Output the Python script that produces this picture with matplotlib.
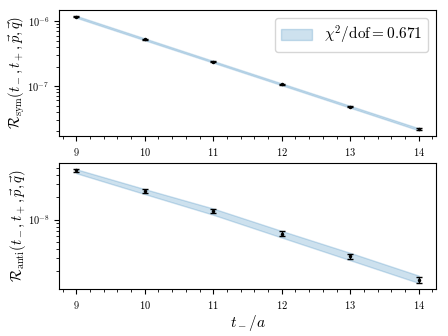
import numpy as np
import matplotlib
matplotlib.use("Agg")
import matplotlib.pyplot as plt

plt.rcParams['font.family'] = 'serif'
plt.rcParams['font.serif'] = ['cmr10']
plt.rcParams['mathtext.fontset'] = 'cm'
plt.rcParams['axes.formatter.use_mathtext'] = True

# time slices
t = [9, 10, 11, 12, 13, 14]

# symmetric ratio
sym_val = [1.18e-6, 5.29e-7, 2.37e-7, 1.07e-7, 4.81e-8, 2.18e-8]
sym_err = [2.0e-8, 1.0e-8, 4.5e-9, 2.2e-9, 1.1e-9, 6.0e-10]
sym_lo = [1.13e-6, 5.08e-7, 2.29e-7, 1.03e-7, 4.63e-8, 2.08e-8]
sym_hi = [1.21e-6, 5.43e-7, 2.44e-7, 1.10e-7, 4.96e-8, 2.24e-8]

# antisymmetric ratio
anti_val = [4.64e-8, 2.44e-8, 1.29e-8, 6.47e-9, 3.19e-9, 1.53e-9]
anti_err = [2.3e-9, 1.5e-9, 7.9e-10, 4.9e-10, 2.6e-10, 1.5e-10]
anti_lo = [4.23e-8, 2.21e-8, 1.16e-8, 5.71e-9, 2.82e-9, 1.39e-9]
anti_hi = [4.79e-8, 2.58e-8, 1.41e-8, 7.02e-9, 3.55e-9, 1.75e-9]

chi2_label = r'$\chi^2/\mathrm{dof} = 0.671$'

fig = plt.figure(figsize=(4.48, 3.36), dpi=100)
ax1 = fig.add_axes([0.132, 0.595, 0.841, 0.375])
ax2 = fig.add_axes([0.132, 0.140, 0.841, 0.375])

ax1.fill_between(t, sym_lo, sym_hi, color='C0', alpha=0.22, label=chi2_label)
ax1.errorbar(t, sym_val, yerr=sym_err, fmt='k.', markersize=3, capsize=2, elinewidth=1)
ax1.set_yscale('log')
ax1.set_ylabel(r'$\mathcal{R}_{\rm sym}(t_-, t_+, \vec{p}, \vec{q})$', fontsize=10.5, labelpad=0)
ax1.legend(loc='upper right', fontsize=11)

ax2.fill_between(t, anti_lo, anti_hi, color='C0', alpha=0.22)
ax2.errorbar(t, anti_val, yerr=anti_err, fmt='k.', markersize=3, capsize=2, elinewidth=1)
ax2.set_yscale('log')
ax2.set_ylabel(r'$\mathcal{R}_{\rm anti}(t_-, t_+, \vec{p}, \vec{q})$', fontsize=10.5, labelpad=0)
ax2.set_xlabel(r'$t_-/a$', fontsize=11, labelpad=2)

for ax in (ax1, ax2):
    ax.minorticks_on()
    ax.tick_params(labelsize=7.5)

fig.savefig("out.png", dpi=100)
